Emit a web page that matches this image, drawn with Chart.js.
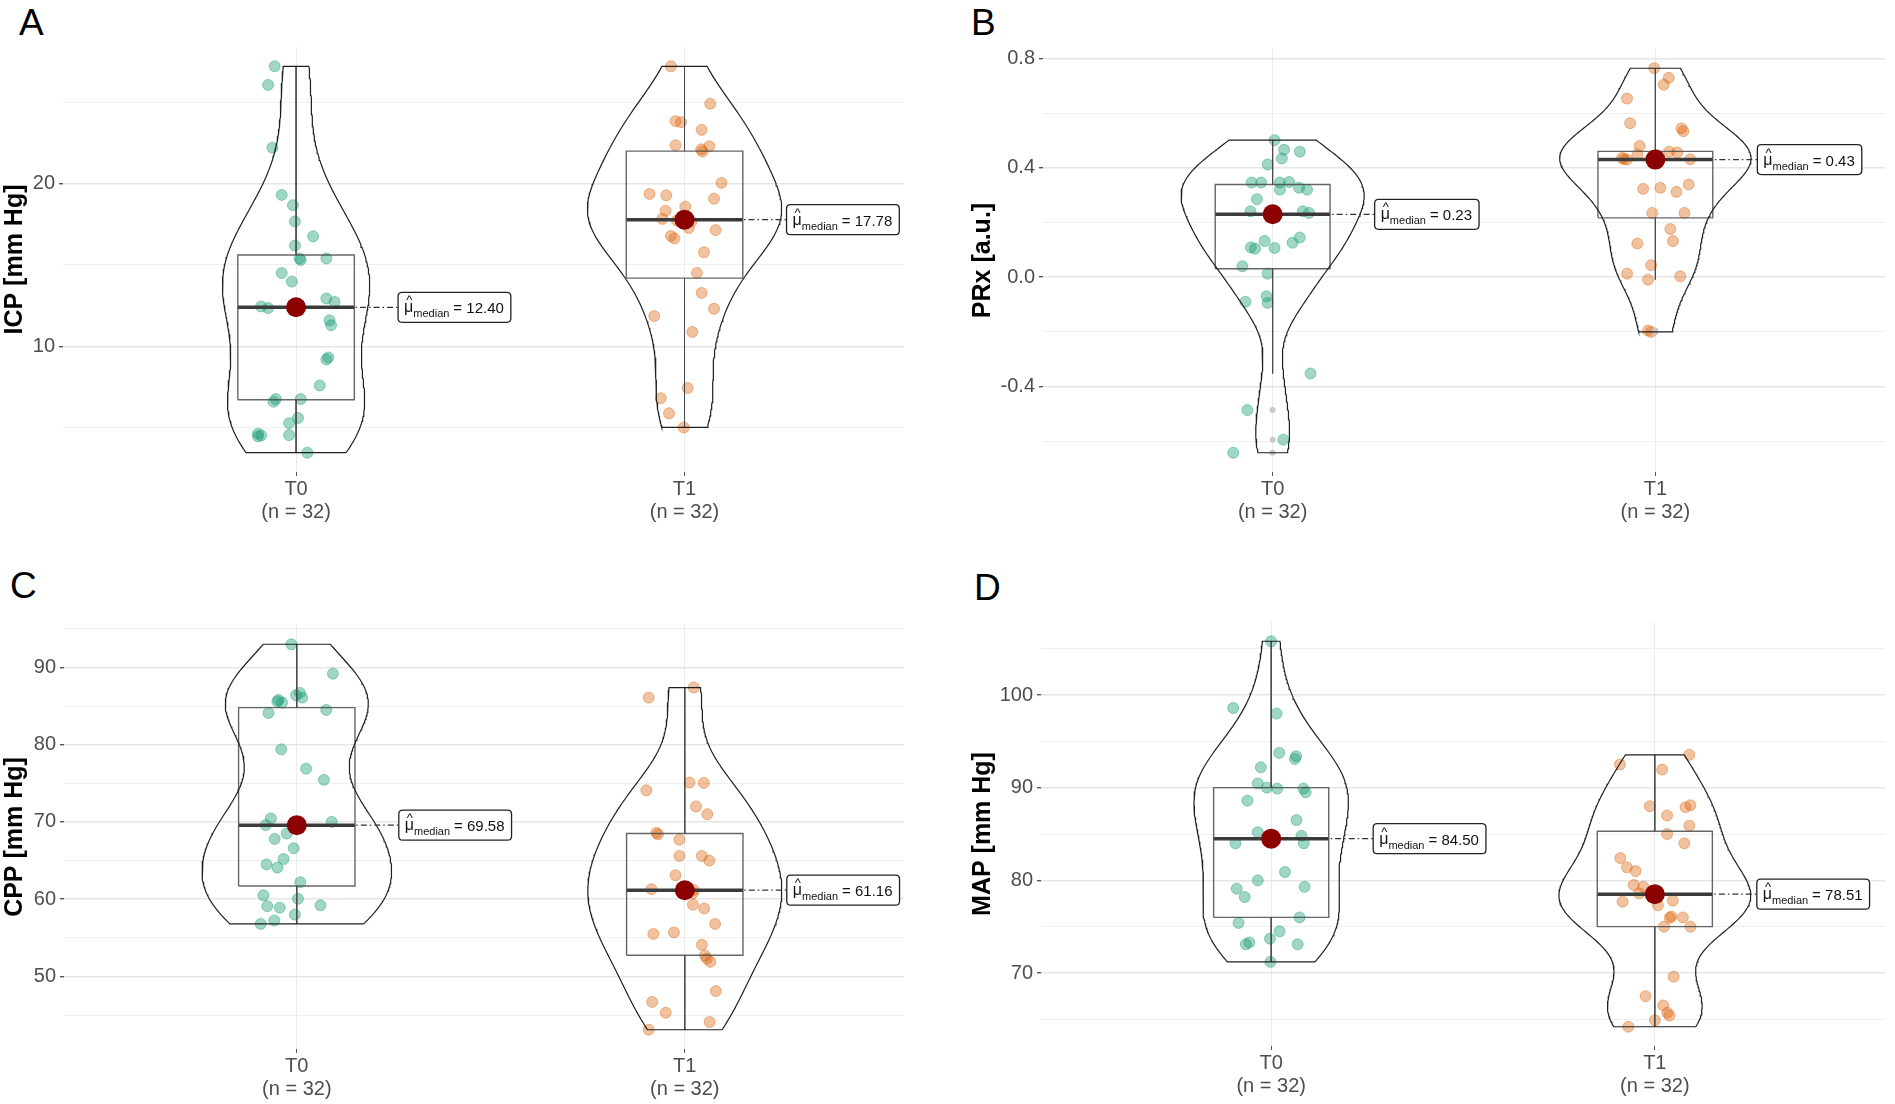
<!DOCTYPE html>
<html>
<head>
<meta charset="utf-8">
<title>ICP, PRx, CPP and MAP at T0 and T1</title>
<script src="https://cdn.jsdelivr.net/npm/chart.js@4.4.1/dist/chart.umd.min.js"></script>
<style>
  body { margin: 0; background: #fff; width: 1895px; height: 1104px; position: relative; overflow: hidden; font-family: "Liberation Sans", Arial, sans-serif; }
  .panel { position: absolute; }
  .tag { position: absolute; font-size: 37px; line-height: 37px; color: #000; }
</style>
</head>
<body>
<div class="tag" style="left:19px;top:4px">A</div>
<div class="tag" style="left:971px;top:4px">B</div>
<div class="tag" style="left:10px;top:567px">C</div>
<div class="tag" style="left:974px;top:569px">D</div>

<div class="panel" style="left:0;top:0;width:914px;height:540px"><canvas id="icpChart"></canvas></div>
<div class="panel" style="left:968px;top:0;width:927px;height:540px"><canvas id="prxChart"></canvas></div>
<div class="panel" style="left:0;top:560px;width:914px;height:544px"><canvas id="cppChart"></canvas></div>
<div class="panel" style="left:968px;top:560px;width:927px;height:544px"><canvas id="mapChart"></canvas></div>

<script>
const groups = ["T0", "T1"];

// A - ICP [mm Hg]
const icpT0 = [27.2, 26.06, 22.2, 19.3, 18.67, 17.67, 16.76, 16.19, 15.4, 15.3, 15.4, 14.5, 13.98, 12.94, 12.73, 12.45,
    12.35, 11.6, 11.3, 9.32, 9.2, 7.6, 6.76, 6.6, 6.76, 5.6, 5.28, 4.64, 4.53, 4.47, 4.55, 3.47];
const icpT0Jitter = [-0.055, -0.072, -0.061, -0.037, -0.008, -0.003, 0.044, -0.003, 0.009, 0.012, 0.078, -0.037, -0.011, 0.078, 0.099, -0.09,
    -0.072, 0.086, 0.09, 0.083, 0.078, 0.061, -0.052, -0.058, 0.012, 0.005, -0.018, -0.098, -0.09, -0.098, -0.018, 0.029];
const icpT1 = [27.2, 24.9, 23.83, 23.77, 23.3, 22.35, 22.29, 22.1, 21.97, 20.04, 19.36, 19.28, 19.07, 18.58, 18.33, 17.83,
    17.73, 17.67, 17.27, 17.14, 16.78, 16.63, 15.78, 14.51, 13.28, 12.31, 11.86, 10.89, 7.44, 6.82, 5.89, 5.02];
const icpT1Jitter = [-0.035, 0.066, -0.023, -0.009, 0.044, -0.023, 0.064, 0.043, 0.046, 0.095, -0.09, -0.047, 0.076, 0.002, -0.049, -0.057,
    -0.02, 0.018, 0.011, 0.08, -0.035, -0.026, 0.05, 0.032, 0.044, 0.076, -0.078, 0.02, 0.008, -0.061, -0.04, -0.002];
const icpQ1 = [6.72, 14.19];
const icpMedian = [12.40, 17.78];
const icpQ3 = [15.61, 21.99];
const icpWhiskerLow = [3.47, 5.02];
const icpWhiskerHigh = [27.2, 27.2];
const icpMajorTicks = [10, 20];
const icpMinorTicks = [5, 15, 25];

// B - PRx [a.u.]
const prxT0 = [0.501, 0.466, 0.459, 0.434, 0.412, 0.346, 0.346, 0.348, 0.346, 0.327, 0.32, 0.32, 0.285, 0.241, 0.241, 0.235,
    0.225, 0.145, 0.132, 0.126, 0.109, 0.104, 0.107, 0.04, 0.013, -0.07, -0.09, -0.094, -0.352, -0.486, -0.594, -0.642];
const prxT0Jitter = [0.005, 0.03, 0.071, 0.024, -0.013, -0.055, -0.03, 0.043, 0.019, 0.069, 0.09, 0.019, -0.041, -0.058, 0.079, 0.095,
    0.003, 0.071, -0.021, 0.052, -0.057, -0.046, 0.005, -0.079, -0.013, -0.016, -0.071, -0.013, 0.099, -0.066, 0.028, -0.103];
const prxT1 = [0.764, 0.729, 0.704, 0.653, 0.563, 0.544, 0.534, 0.48, 0.459, 0.456, 0.449, 0.446, 0.436, 0.431, 0.432, 0.43,
    0.43, 0.339, 0.327, 0.323, 0.312, 0.235, 0.235, 0.176, 0.132, 0.123, 0.044, 0.013, 0.003, -0.009, -0.195, -0.2];
const prxT1Jitter = [-0.003, 0.035, 0.022, -0.074, -0.066, 0.068, 0.073, -0.041, 0.036, 0.057, -0.047, 0.005, -0.087, 0.091, -0.082, -0.074,
    0, 0.087, 0.013, -0.032, 0.055, -0.008, 0.076, 0.039, 0.046, -0.047, -0.011, -0.074, 0.065, -0.019, -0.019, -0.011];
const prxQ1 = [0.031, 0.217];
const prxMedian = [0.23, 0.43];
const prxQ3 = [0.339, 0.46];
const prxWhiskerLow = [-0.352, -0.009];
const prxWhiskerHigh = [0.501, 0.764];
const prxMajorTicks = [-0.4, 0, 0.4, 0.8];
const prxMinorTicks = [-0.6, -0.2, 0.2, 0.6];

// C - CPP [mm Hg]
const cppT0 = [93.0, 89.2, 86.7, 86.4, 86.1, 85.8, 85.6, 85.45, 84.5, 84.1, 79.4, 76.9, 75.45, 70.45, 70.0, 69.6,
    69.56, 68.5, 67.8, 66.6, 65.2, 64.5, 64.1, 62.2, 60.5, 60.05, 59.2, 59.1, 58.9, 58.0, 57.25, 56.8];
const cppT0Jitter = [-0.014, 0.093, 0.008, -0.002, 0.014, -0.047, -0.05, -0.038, 0.076, -0.073, -0.04, 0.024, 0.07, -0.067, 0.09, -0.08,
    0, -0.026, -0.057, -0.008, -0.034, -0.078, -0.05, 0.009, -0.086, 0.003, 0.061, -0.076, -0.044, -0.005, -0.058, -0.093];
const cppT1 = [87.4, 86.1, 75.1, 75.05, 74.1, 72.0, 71.0, 68.6, 68.4, 67.7, 65.6, 65.6, 65.0, 63.1, 61.3, 61.2,
    61.12, 60.8, 59.3, 58.8, 56.8, 55.7, 55.5, 54.1, 52.7, 52.3, 51.9, 48.1, 46.7, 45.3, 44.1, 43.1];
const cppT1Jitter = [0.023, -0.093, 0.012, 0.049, -0.099, 0.029, 0.058, -0.073, -0.069, -0.014, -0.014, 0.044, 0.063, -0.024, -0.086, 0.023,
    0, 0.021, 0.021, 0.05, 0.078, -0.028, -0.081, 0.044, 0.052, 0.057, 0.066, 0.08, -0.084, -0.049, 0.064, -0.093];
const cppQ1 = [61.7, 52.75];
const cppMedian = [69.58, 61.16];
const cppQ3 = [84.8, 68.5];
const cppWhiskerLow = [56.8, 43.1];
const cppWhiskerHigh = [93.0, 87.4];
const cppMajorTicks = [50, 60, 70, 80, 90];
const cppMinorTicks = [45, 55, 65, 75, 85, 95];

// D - MAP [mm Hg]
const mapT0 = [105.8, 98.6, 98.0, 93.75, 93.4, 93.1, 92.2, 90.45, 90.0, 89.9, 89.9, 89.5, 88.6, 86.5, 85.2, 84.8,
    84.2, 84.0, 84.0, 80.9, 80.0, 79.3, 79.1, 78.2, 76.0, 75.4, 74.5, 73.7, 73.3, 73.1, 73.1, 71.2];
const mapT0Jitter = [0, -0.099, 0.014, 0.021, 0.065, 0.062, -0.027, -0.035, -0.011, 0.016, 0.084, 0.09, -0.062, 0.066, -0.035, 0.079,
    0, -0.093, 0.085, 0.036, -0.035, 0.087, -0.09, -0.069, 0.074, -0.085, 0.022, -0.003, -0.057, -0.066, 0.069, -0.002];
const mapT1 = [93.55, 92.5, 91.95, 88.1, 88.0, 87.9, 87.0, 85.9, 85.0, 84.0, 82.4, 81.4, 81.0, 79.5, 79.3, 78.6,
    78.42, 77.8, 77.7, 77.3, 76.1, 76.0, 75.95, 75.0, 75.0, 69.6, 67.5, 66.5, 65.7, 65.4, 64.9, 64.2];
const mapT1Jitter = [0.09, -0.091, 0.019, 0.093, -0.013, 0.08, 0.032, 0.09, 0.032, 0.077, -0.09, -0.073, -0.05, -0.055, -0.03, -0.041,
    0, 0.047, -0.084, 0.008, 0.043, 0.073, 0.039, 0.024, 0.093, 0.049, -0.024, 0.022, 0.033, 0.038, 0, -0.069];
const mapQ1 = [76.0, 75.0];
const mapMedian = [84.50, 78.51];
const mapQ3 = [90.0, 85.3];
const mapWhiskerLow = [71.2, 64.2];
const mapWhiskerHigh = [105.8, 93.55];
const mapMajorTicks = [70, 80, 90, 100];
const mapMinorTicks = [65, 75, 85, 95, 105];

const FONT = '"Liberation Sans", Arial, sans-serif';
const POINT_FILL = ["rgba(27, 158, 119, 0.42)", "rgba(217, 95, 2, 0.38)"];
const POINT_EDGE = ["rgba(27, 158, 119, 0.55)", "rgba(217, 95, 2, 0.5)"];
const BOX_HALF = 0.15;      // boxplot width 0.3
const VIOLIN_HALF = 0.25;   // violin width 0.5

Chart.defaults.font.family = FONT;

// --- helpers for the violin (gaussian kde, bandwidth like R's nrd0) ---
function quantile(sorted, p) {
    const h = (sorted.length - 1) * p;
    const lo = Math.floor(h);
    const hi = Math.min(lo + 1, sorted.length - 1);
    return sorted[lo] + (h - lo) * (sorted[hi] - sorted[lo]);
}

function bandwidth(vals) {
    const n = vals.length;
    const mean = vals.reduce((a, b) => a + b, 0) / n;
    const sd = Math.sqrt(vals.reduce((a, v) => a + (v - mean) * (v - mean), 0) / (n - 1));
    const s = vals.slice().sort((a, b) => a - b);
    const iqr = quantile(s, 0.75) - quantile(s, 0.25);
    return 0.9 * Math.min(sd, iqr / 1.34) * Math.pow(n, -0.2);
}

function densityCurve(vals, steps) {
    const bw = bandwidth(vals);
    const lo = Math.min(...vals), hi = Math.max(...vals);
    const norm = vals.length * bw * Math.sqrt(2 * Math.PI);
    const out = [];
    for (let k = 0; k <= steps; k++) {
        const y = lo + (hi - lo) * k / steps;
        let sum = 0;
        vals.forEach((v) => {
            const u = (y - v) / bw;
            sum += Math.exp(-0.5 * u * u);
        });
        out.push({ y: y, d: sum / norm });
    }
    return out;
}

function violinPath(curve, center, scale) {
    const right = curve.map((c) => ({ x: center + c.d * scale, y: c.y }));
    const left = curve.slice().reverse().map((c) => ({ x: center - c.d * scale, y: c.y }));
    return right.concat(left, [right[0]]);
}

function roundRect(ctx, x, y, w, h, r) {
    ctx.beginPath();
    ctx.moveTo(x + r, y);
    ctx.lineTo(x + w - r, y);
    ctx.quadraticCurveTo(x + w, y, x + w, y + r);
    ctx.lineTo(x + w, y + h - r);
    ctx.quadraticCurveTo(x + w, y + h, x + w - r, y + h);
    ctx.lineTo(x + r, y + h);
    ctx.quadraticCurveTo(x, y + h, x, y + h - r);
    ctx.lineTo(x, y + r);
    ctx.quadraticCurveTo(x, y, x + r, y);
    ctx.closePath();
}

// label box "mu-hat median = x.xx" with dash-dot leader
function medianLabelPlugin(medians) {
    return {
        id: "medianLabels",
        afterDatasetsDraw(chart) {
            const ctx = chart.ctx;
            const xs = chart.scales.x, ys = chart.scales.y;
            medians.forEach((m, i) => {
                const cx = xs.getPixelForValue(i);
                const cy = ys.getPixelForValue(m);
                const lx = cx + 102, h = 30;
                const value = "= " + m.toFixed(2);
                ctx.save();
                ctx.textAlign = "left";
                ctx.textBaseline = "alphabetic";
                ctx.font = "16px " + FONT;
                const muW = ctx.measureText("μ").width;
                ctx.font = "11px " + FONT;
                const subW = ctx.measureText("median").width;
                ctx.font = "15px " + FONT;
                const valW = ctx.measureText(value).width;
                const w = 6 + muW + subW + 4 + valW + 7;

                ctx.strokeStyle = "#333";
                ctx.lineWidth = 1.2;
                ctx.setLineDash([6, 3, 1.5, 3]);
                ctx.beginPath();
                ctx.moveTo(cx + 10, cy);
                ctx.lineTo(lx, cy);
                ctx.stroke();
                ctx.setLineDash([]);

                roundRect(ctx, lx, cy - h / 2, w, h, 4);
                ctx.fillStyle = "#fff";
                ctx.fill();
                ctx.strokeStyle = "#222";
                ctx.lineWidth = 1.3;
                ctx.stroke();

                ctx.fillStyle = "#111";
                let tx = lx + 6;
                ctx.font = "16px " + FONT;
                ctx.fillText("μ", tx, cy + 5);
                ctx.textAlign = "center";
                ctx.font = "13px " + FONT;
                ctx.fillText("^", tx + muW / 2 + 0.5, cy - 3);
                ctx.textAlign = "left";
                tx += muW;
                ctx.font = "11px " + FONT;
                ctx.fillText("median", tx, cy + 10);
                tx += subW + 4;
                ctx.font = "15px " + FONT;
                ctx.fillText(value, tx, cy + 6);
                ctx.restore();
            });
        }
    };
}

function makePanel(canvasId, p) {
    const series = [p.t0, p.t1];
    const jitter = [p.j0, p.j1];
    const all = p.t0.concat(p.t1);
    const lo = Math.min(...all), hi = Math.max(...all);
    const pad = (hi - lo) * 0.05;

    // violins scaled by area: the widest density gets half width 0.25
    const curves = series.map((vals) => densityCurve(vals, 160));
    const maxD = Math.max(...curves.map((c) => Math.max(...c.map((k) => k.d))));
    const vScale = VIOLIN_HALF / maxD;

    const datasets = [];

    // centrality point
    datasets.push({
        data: p.med.map((m, i) => ({ x: i, y: m })),
        showLine: false, pointRadius: 10, pointBackgroundColor: "#8b0000", pointBorderWidth: 0, order: 1
    });

    series.forEach((vals, i) => {
        datasets.push({
            data: violinPath(curves[i], i, vScale),
            showLine: true, pointRadius: 0, borderColor: "#1f1f1f", borderWidth: 1.2, fill: false, order: 2
        });

        // boxplot outliers
        const outliers = vals.filter((v) => v < p.wLo[i] || v > p.wHi[i]);
        datasets.push({
            data: outliers.map((v) => ({ x: i, y: v })),
            showLine: false, pointRadius: 3, pointBackgroundColor: "#c8c8c8", pointBorderWidth: 0, order: 3
        });

        // box
        datasets.push({
            data: [
                { x: i - BOX_HALF, y: p.q1[i] }, { x: i + BOX_HALF, y: p.q1[i] },
                { x: i + BOX_HALF, y: p.q3[i] }, { x: i - BOX_HALF, y: p.q3[i] },
                { x: i - BOX_HALF, y: p.q1[i] }
            ],
            showLine: true, pointRadius: 0, borderColor: "rgba(75, 75, 75, 0.85)", borderWidth: 1.4, fill: false, order: 4
        });
        // median bar
        datasets.push({
            data: [{ x: i - BOX_HALF, y: p.med[i] }, { x: i + BOX_HALF, y: p.med[i] }],
            showLine: true, pointRadius: 0, borderColor: "#3c3c3c", borderWidth: 3.5, order: 4
        });
        // whiskers
        datasets.push({
            data: [
                { x: i, y: p.wHi[i] }, { x: i, y: p.q3[i] }, { x: i, y: null },
                { x: i, y: p.q1[i] }, { x: i, y: p.wLo[i] }
            ],
            showLine: true, spanGaps: false, pointRadius: 0, borderColor: "#4a4a4a", borderWidth: 1, order: 4
        });

        // jittered observations
        datasets.push({
            data: vals.map((v, k) => ({ x: i + jitter[i][k], y: v })),
            showLine: false, pointRadius: 5.5, pointBackgroundColor: POINT_FILL[i],
            pointBorderColor: POINT_EDGE[i], pointBorderWidth: 0.8, order: 5
        });
    });

    const ticks = p.major.concat(p.minor).sort((a, b) => a - b);
    const isMajor = (v) => p.major.some((m) => Math.abs(m - v) < 1e-9);

    return new Chart(document.getElementById(canvasId), {
        type: "scatter",
        data: { datasets: datasets },
        options: {
            responsive: true,
            maintainAspectRatio: false,
            animation: false,
            layout: { padding: { top: p.padTop, left: 0, right: 0, bottom: 0 } },
            plugins: { legend: { display: false }, tooltip: { enabled: false } },
            scales: {
                x: {
                    type: "linear",
                    min: -0.6,
                    max: p.xMax,
                    border: { display: false },
                    afterBuildTicks: (s) => { s.ticks = [{ value: 0 }, { value: 1 }]; },
                    afterFit: (s) => { s.height = p.xHeight; },
                    grid: { color: "#ebebeb", lineWidth: 1, tickColor: "#555", tickLength: 4 },
                    ticks: {
                        padding: 2,
                        color: "#4d4d4d",
                        maxRotation: 0,
                        font: { size: 20, lineHeight: 1.15 },
                        callback: (v) => [groups[v], "(n = " + series[v].length + ")"]
                    }
                },
                y: {
                    min: lo - pad,
                    max: hi + pad,
                    border: { display: false },
                    afterBuildTicks: (s) => { s.ticks = ticks.map((v) => ({ value: v })); },
                    afterFit: (s) => { s.width = p.yWidth; },
                    grid: {
                        color: (c) => (isMajor(c.tick.value) ? "#e6e6e6" : "#efefef"),
                        lineWidth: (c) => (isMajor(c.tick.value) ? 1.4 : 1),
                        tickColor: (c) => (isMajor(c.tick.value) ? "#555" : "rgba(0,0,0,0)"),
                        tickLength: 4
                    },
                    ticks: {
                        padding: 4,
                        color: "#4d4d4d",
                        font: { size: 20 },
                        callback: (v) => (isMajor(v) ? v.toFixed(p.digits) : "")
                    },
                    title: {
                        display: true,
                        text: p.title,
                        color: "#000",
                        padding: { top: 0, bottom: 0 },
                        font: { size: 25, weight: "bold" }
                    }
                }
            }
        },
        plugins: [medianLabelPlugin(p.med)]
    });
}

makePanel("icpChart", {
    t0: icpT0, t1: icpT1, j0: icpT0Jitter, j1: icpT1Jitter,
    q1: icpQ1, med: icpMedian, q3: icpQ3, wLo: icpWhiskerLow, wHi: icpWhiskerHigh,
    major: icpMajorTicks, minor: icpMinorTicks, title: "ICP [mm Hg]", digits: 0,
    xMax: 1.565, padTop: 47, yWidth: 63, xHeight: 68
});
makePanel("prxChart", {
    t0: prxT0, t1: prxT1, j0: prxT0Jitter, j1: prxT1Jitter,
    q1: prxQ1, med: prxMedian, q3: prxQ3, wLo: prxWhiskerLow, wHi: prxWhiskerHigh,
    major: prxMajorTicks, minor: prxMinorTicks, title: "PRx [a.u.]", digits: 1,
    xMax: 1.6, padTop: 49, yWidth: 75, xHeight: 68
});
makePanel("cppChart", {
    t0: cppT0, t1: cppT1, j0: cppT0Jitter, j1: cppT1Jitter,
    q1: cppQ1, med: cppMedian, q3: cppQ3, wLo: cppWhiskerLow, wHi: cppWhiskerHigh,
    major: cppMajorTicks, minor: cppMinorTicks, title: "CPP [mm Hg]", digits: 0,
    xMax: 1.565, padTop: 65, yWidth: 64, xHeight: 55
});
makePanel("mapChart", {
    t0: mapT0, t1: mapT1, j0: mapT0Jitter, j1: mapT1Jitter,
    q1: mapQ1, med: mapMedian, q3: mapQ3, wLo: mapWhiskerLow, wHi: mapWhiskerHigh,
    major: mapMajorTicks, minor: mapMinorTicks, title: "MAP [mm Hg]", digits: 0,
    xMax: 1.6, padTop: 62, yWidth: 73, xHeight: 58
});
</script>
</body>
</html>
